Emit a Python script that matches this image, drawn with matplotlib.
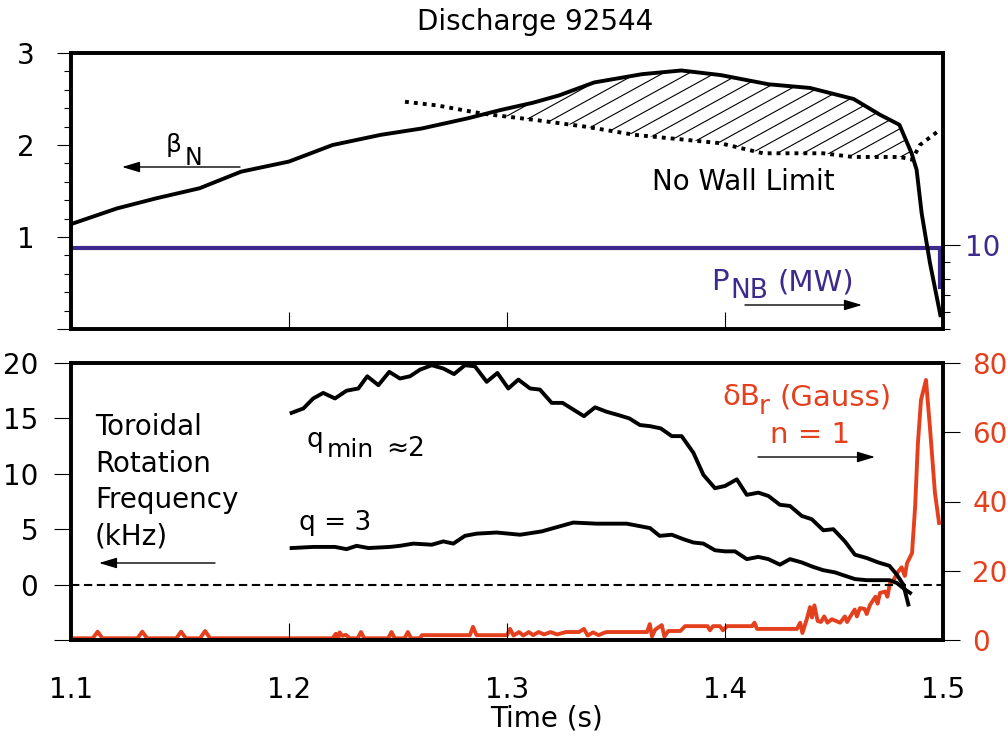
import numpy as np
import matplotlib
matplotlib.use("Agg")
import matplotlib.pyplot as plt
from matplotlib.lines import Line2D

plt.rcParams['font.family'] = ['DejaVu Sans']

# ---------------- data ----------------
beta_t = [1.100, 1.121, 1.139, 1.159, 1.178, 1.200, 1.220, 1.242, 1.261, 1.282,
          1.297, 1.312, 1.324, 1.340, 1.362, 1.380, 1.398, 1.420, 1.439, 1.459,
          1.471, 1.480, 1.4856, 1.4879, 1.4902, 1.494, 1.4988]
beta_v = [1.14, 1.31, 1.42, 1.53, 1.71, 1.82, 2.00, 2.11, 2.18, 2.29,
          2.38, 2.46, 2.54, 2.68, 2.77, 2.81, 2.76, 2.66, 2.62, 2.50,
          2.33, 2.22, 1.91, 1.73, 1.26, 0.72, 0.15]

nowall_t = [1.2532, 1.268, 1.289, 1.3136, 1.3358, 1.3587, 1.3847, 1.3977, 1.4174,
            1.430, 1.445, 1.4587, 1.4803, 1.4858, 1.4894, 1.4972]
nowall_v = [2.47, 2.43, 2.34, 2.27, 2.20, 2.11, 2.05, 2.02, 1.91,
            1.91, 1.91, 1.87, 1.87, 1.84, 2.00, 2.14]

pnb_t = [1.100, 1.4986, 1.4986]
pnb_v = [9.6, 9.6, 5.0]

qmin_t = [1.2012, 1.2066, 1.2111, 1.2157, 1.2211, 1.2264, 1.2318, 1.2359, 1.2410, 1.2460,
          1.2509, 1.2555, 1.2601, 1.2655, 1.2708, 1.2757, 1.2807, 1.2853, 1.2907, 1.2956,
          1.3006, 1.3052, 1.3106, 1.3151, 1.3205, 1.3255, 1.3304, 1.3353, 1.3404, 1.3457,
          1.3511, 1.3561, 1.3610, 1.3656, 1.3705, 1.3756, 1.3801, 1.3855, 1.3901, 1.3954,
          1.4000, 1.4054, 1.4100, 1.4153, 1.4199, 1.4252, 1.4298, 1.4352, 1.4398, 1.4451,
          1.4497, 1.4550, 1.4596, 1.4650, 1.4703, 1.4754, 1.4788, 1.4818, 1.4841]
qmin_v = [15.5, 15.9, 16.8, 17.3, 16.8, 17.5, 17.7, 18.8, 18.0, 19.2,
          18.6, 18.8, 19.4, 19.8, 19.5, 19.0, 19.8, 19.7, 18.3, 19.1,
          17.7, 18.5, 17.7, 17.6, 16.4, 16.4, 15.8, 15.2, 16.0, 15.6,
          15.3, 15.0, 14.4, 14.3, 14.1, 13.4, 13.4, 11.9, 9.9, 8.7,
          8.9, 9.5, 8.1, 8.3, 8.0, 7.2, 7.1, 6.2, 5.9, 4.9,
          5.0, 3.9, 2.7, 2.4, 2.0, 1.7, 0.9, 0.0, -1.8]

q3_t = [1.2012, 1.2111, 1.2211, 1.2264, 1.2310, 1.2364, 1.2463, 1.2509, 1.2570, 1.2655,
        1.2708, 1.2754, 1.2807, 1.2861, 1.2953, 1.3060, 1.3159, 1.3304, 1.3411, 1.3549,
        1.3656, 1.3700, 1.3756, 1.3809, 1.3855, 1.3901, 1.3954, 1.4000, 1.4046, 1.4100,
        1.4153, 1.4199, 1.4252, 1.4298, 1.4352, 1.4404, 1.4451, 1.4505, 1.4550, 1.4596,
        1.4650, 1.4703, 1.4754, 1.4788, 1.4826, 1.4849]
q3_v = [3.3, 3.4, 3.4, 3.2, 3.5, 3.3, 3.4, 3.5, 3.7, 3.6,
        3.9, 3.7, 4.4, 4.6, 4.7, 4.5, 4.8, 5.6, 5.5, 5.5,
        5.1, 4.4, 4.5, 4.1, 3.8, 3.7, 3.1, 3.0, 3.0, 2.3,
        2.5, 2.3, 1.8, 2.3, 2.0, 1.6, 1.3, 1.1, 0.8, 0.5,
        0.4, 0.4, 0.4, 0.15, -0.45, -0.75]

dbr_t = [1.1000, 1.1100, 1.1122, 1.1144, 1.1305, 1.1327, 1.1349, 1.1483, 1.1505, 1.1527,
         1.1592, 1.1615, 1.1638, 1.2200, 1.2215, 1.2222, 1.2232, 1.2245, 1.2260, 1.2280,
         1.2315, 1.2330, 1.2345, 1.2455, 1.2470, 1.2485, 1.2530, 1.2545, 1.2560, 1.2600,
         1.2610, 1.2830, 1.2844, 1.2860, 1.3000, 1.3014, 1.3030, 1.3055, 1.3075, 1.3100,
         1.3120, 1.3145, 1.3170, 1.3200, 1.3230, 1.3270, 1.3330, 1.3353, 1.3370, 1.3395,
         1.3420, 1.3450, 1.3460, 1.3642, 1.3655, 1.3665, 1.3680, 1.3710, 1.3722, 1.3740,
         1.3795, 1.3817, 1.3920, 1.3931, 1.3945, 1.3977, 1.3990, 1.4010, 1.4124, 1.4135,
         1.4147, 1.4330, 1.4345, 1.4355, 1.4375, 1.4390, 1.4399, 1.4410, 1.4425, 1.4440,
         1.4455, 1.4470, 1.4490, 1.4528, 1.4550, 1.4560, 1.4573, 1.4595, 1.4605, 1.4619,
         1.4640, 1.4650, 1.4665, 1.4690, 1.4700, 1.4711, 1.4735, 1.4745, 1.4757, 1.4775,
         1.4789, 1.4810, 1.4825, 1.4835, 1.4858, 1.4872, 1.4885, 1.4899, 1.4922, 1.4940,
         1.4963, 1.4982]
dbr_v = [0.5, 0.5, 2.4, 0.5, 0.5, 2.4, 0.5, 0.5, 2.4, 0.5,
         0.5, 2.6, 0.5, 0.5, 1.8, -0.6, 2.2, 1.2, 1.5, 0.5,
         0.5, 2.3, 0.5, 0.5, 2.3, 0.5, 0.5, 2.3, 0.5, 0.5,
         1.4, 1.4, 3.8, 1.4, 1.4, 3.2, 1.3, 2.3, 1.3, 2.3,
         1.4, 2.3, 1.6, 2.3, 1.6, 2.3, 2.3, 3.2, 1.3, 2.2,
         1.4, 2.2, 2.3, 2.3, 4.6, 1.0, 3.0, 4.3, 1.0, 2.6,
         2.6, 4.0, 4.0, 2.8, 4.0, 4.0, 2.8, 4.0, 4.0, 5.0,
         3.2, 3.2, 5.0, 2.0, 6.0, 9.5, 6.5, 10.0, 5.5, 5.2,
         6.8, 5.0, 6.0, 5.0, 6.8, 5.2, 6.6, 8.8, 6.8, 9.2,
         9.0, 7.5, 10.1, 12.5, 10.5, 13.6, 14.0, 12.5, 16.5, 17.5,
         19.3, 21.0, 18.5, 22.2, 25.1, 38.4, 56.9, 69.3, 75.1, 61.5,
         42.5, 33.8]

xticks = [1.1, 1.2, 1.3, 1.4, 1.5]
xticklabels = ['1.1', '1.2', '1.3', '1.4', '1.5']
beta_ticks = [0, 1, 2, 3]
beta_ticklabels = ['', '1', '2', '3']
pnb_ticks = [10]
pnb_ticklabels = ['10']
rot_ticks = [-5, 0, 5, 10, 15, 20]
rot_ticklabels = ['', '0', '5', '10', '15', '20']
br_ticks = [0, 20, 40, 60, 80]
br_ticklabels = ['0', '20', '40', '60', '80']

PURPLE = '#3d2a8c'
RED = '#e5401e'
W, H = 1008, 738

fig = plt.figure(figsize=(W / 100, H / 100), dpi=100)
ax1 = fig.add_axes([71 / W, 1 - 329 / H, 872 / W, 276 / H])
ax1r = ax1.twinx()
ax2 = fig.add_axes([71 / W, 1 - 640 / H, 872 / W, 277 / H])
ax2r = ax2.twinx()
for a, ar in ((ax1, ax1r), (ax2, ax2r)):
    a.set_zorder(ar.get_zorder() + 1)
    a.patch.set_visible(False)
    for ax_ in (a, ar):
        for sp in ax_.spines.values():
            sp.set_linewidth(2.6)
            sp.set_color('black')

# ---------------- top panel ----------------
ax1r.plot(pnb_t, pnb_v, color=PURPLE, lw=3.0, solid_joinstyle='miter')
ax1.plot(beta_t, beta_v, color='black', lw=2.8, solid_joinstyle='round')
ax1.plot(nowall_t, nowall_v, color='black', lw=2.8, linestyle=(0, (1, 1.3)),
         dash_capstyle='butt')

tg = np.linspace(nowall_t[0], nowall_t[-1], 800)
b_i = np.interp(tg, beta_t, beta_v)
n_i = np.interp(tg, nowall_t, nowall_v)
poly = ax1.fill_between(tg, n_i, b_i, where=b_i > n_i, interpolate=True,
                        facecolor='none', edgecolor='none')
slope = 0.55 * 872 / 276
for x0 in np.arange(-0.6, 1.0, 26 / 872):
    for p in poly.get_paths():
        ln = Line2D([x0, x0 + 1 / slope], [0, 1], transform=ax1.transAxes,
                    color='black', lw=0.8)
        ln.set_clip_path(p, ax1.transData)
        ax1.add_artist(ln)

ax1.set_xlim(1.1, 1.5)
ax1.set_ylim(0, 3)
ax1r.set_ylim(0, 32.86)
ax1.set_xticks(xticks)
ax1.set_xticklabels([])
ax1.tick_params(axis='x', direction='in', length=12, width=0.8, top=False)
ax1.set_yticks(beta_ticks)
ax1.set_yticklabels(beta_ticklabels)
ax1.set_yticks(np.arange(0, 3.01, 0.2), minor=True)
ax1.tick_params(axis='y', which='major', direction='out', length=10, width=0.8,
                pad=16, labelsize=20)
ax1.tick_params(axis='y', which='minor', direction='out', length=5, width=0.8)
ax1r.set_yticks(pnb_ticks)
ax1r.set_yticklabels(pnb_ticklabels)
ax1r.set_yticks([0, 2, 4, 6, 8], minor=True)
ax1r.tick_params(axis='y', which='major', direction='out', length=12, width=0.8,
                 pad=4, labelsize=20, labelcolor=PURPLE)
ax1r.tick_params(axis='y', which='minor', direction='out', length=5, width=0.8)

# ---------------- bottom panel ----------------
ax2r.plot(dbr_t, dbr_v, color=RED, lw=2.8)
ax2.axhline(0, color='black', lw=1.5, linestyle=(0, (4, 2.2)))
ax2.plot(qmin_t, qmin_v, color='black', lw=2.8)
ax2.plot(q3_t, q3_v, color='black', lw=2.8)
ax2.set_xlim(1.1, 1.5)
ax2.set_ylim(-5, 20)
ax2r.set_ylim(0, 80)
ax2.set_xticks(xticks)
ax2.set_xticklabels(xticklabels)
ax2.tick_params(axis='x', direction='in', length=12, width=0.8, top=False,
                pad=26, labelsize=20)
ax2.set_yticks(rot_ticks)
ax2.set_yticklabels(rot_ticklabels)
ax2.tick_params(axis='y', direction='out', length=12, width=0.8, pad=11.5,
                labelsize=20)
ax2r.set_yticks(br_ticks)
ax2r.set_yticklabels(br_ticklabels)
ax2r.tick_params(axis='y', direction='out', length=12, width=0.8, pad=9,
                 labelsize=20, labelcolor=RED)


# ---------------- text ----------------
def ftxt(x, y, s, size=20, color='black', ha='left', va='baseline'):
    fig.text(x / W, 1 - y / H, s, fontsize=size, color=color, ha=ha, va=va)


def farrow(x0, y0, x1, y1):
    fig.add_artist(matplotlib.patches.FancyArrowPatch(
        (x0 / W, 1 - y0 / H), (x1 / W, 1 - y1 / H), transform=fig.transFigure,
        arrowstyle='-|>,head_length=0.6,head_width=0.18', mutation_scale=18,
        color='black', lw=1.0, shrinkA=0, shrinkB=0))


ftxt(535, 22, 'Discharge 92544', ha='center', va='center')
ftxt(547, 718, 'Time (s)', ha='center', va='center')

ftxt(166, 152, 'β', size=18)
ftxt(185, 165, 'N', size=17)
farrow(240, 167, 122, 167)
ftxt(652, 190, 'No Wall Limit')
ftxt(711, 290, 'P', size=21, color=PURPLE)
ftxt(730, 298, 'NB', size=19, color=PURPLE)
ftxt(778, 290, '(MW)', size=21, color=PURPLE)
farrow(745, 305, 862, 305)

for s, yb in (('Toroidal', 435), ('Rotation', 472), ('Frequency', 508), ('(kHz)', 545)):
    ftxt(95, yb, s)
farrow(215, 563, 99, 563)
ftxt(306, 447, 'q', size=19)
ftxt(327, 457, 'min', size=18)
ftxt(386, 456, '≈2', size=19)
ftxt(299, 530, 'q = 3', size=19)
ftxt(722, 405, 'δB', size=21, color=RED)
ftxt(759, 414, 'r', size=19, color=RED)
ftxt(780, 405, '(Gauss)', size=21, color=RED)
ftxt(810, 443, 'n = 1', size=21, color=RED, ha='center')
farrow(758, 457, 875, 457)

fig.savefig('out.png', dpi=100)
